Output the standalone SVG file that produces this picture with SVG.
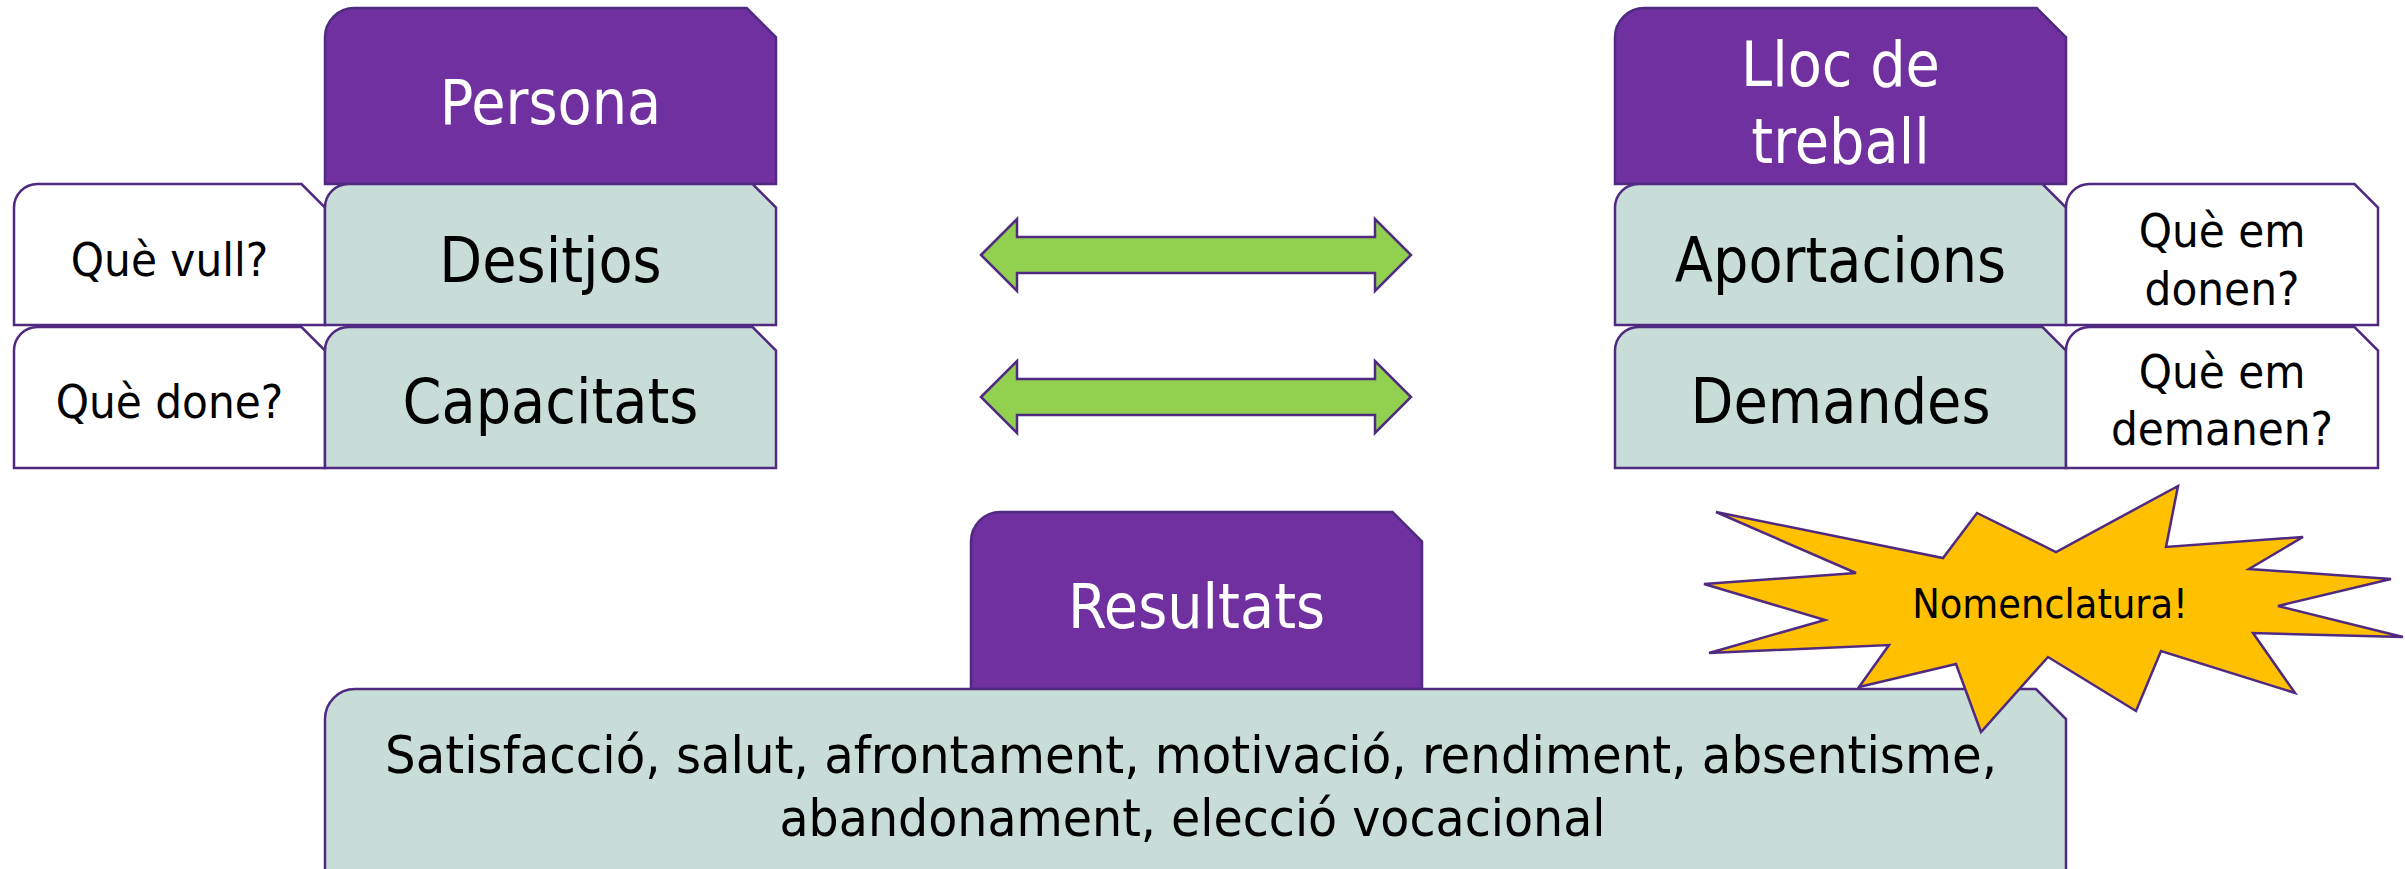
<svg xmlns="http://www.w3.org/2000/svg" width="2405" height="869" viewBox="0 0 2405 869">
<style>
.hdr{fill:#7030A0;stroke:#4F2A80;stroke-width:2.5}
.lt{fill:#C9DDD8;stroke:#4F2A80;stroke-width:2.5}
.wh{fill:#FFFFFF;stroke:#4F2A80;stroke-width:2.5}
.arr{fill:#92D050;stroke:#4F2A80;stroke-width:2.5;stroke-linejoin:miter}
.star{fill:#FFC000;stroke:#4F2A80;stroke-width:2.5;stroke-linejoin:miter}
text{font-family:"DejaVu Sans Condensed","DejaVu Sans",sans-serif;font-stretch:condensed;text-anchor:middle}
.tw{fill:#FFFFFF;font-size:62px}
.tb{fill:#000000;font-size:62px}
.ts{fill:#000000;font-size:47px}
.tm{fill:#000000;font-size:52px}
.tn{fill:#000000;font-size:41px}
</style>
<g id="persona">
<path class="hdr" d="M354.3,8 H746.7 L776,37.3 V184 H325 V37.3 A29.3,29.3 0 0 1 354.3,8 Z"/>
<text class="tw" x="550.5" y="124">Persona</text>
</g>
<g id="que-vull">
<path class="wh" d="M37.5,184 H301.5 L325,207.5 V325 H14 V207.5 A23.5,23.5 0 0 1 37.5,184 Z"/>
<text class="ts" x="169.5" y="276">Què vull?</text>
</g>
<g id="desitjos">
<path class="lt" d="M348.5,184 H752.5 L776,207.5 V325 H325 V207.5 A23.5,23.5 0 0 1 348.5,184 Z"/>
<text class="tb" x="550.5" y="282">Desitjos</text>
</g>
<g id="que-done">
<path class="wh" d="M37.5,327 H301.5 L325,350.5 V468 H14 V350.5 A23.5,23.5 0 0 1 37.5,327 Z"/>
<text class="ts" x="169.5" y="418">Què done?</text>
</g>
<g id="capacitats">
<path class="lt" d="M348.5,327 H752.5 L776,350.5 V468 H325 V350.5 A23.5,23.5 0 0 1 348.5,327 Z"/>
<text class="tb" x="550.5" y="423">Capacitats</text>
</g>
<g id="lloc-treball">
<path class="hdr" d="M1644.3,8 H2036.7 L2066,37.3 V184 H1615 V37.3 A29.3,29.3 0 0 1 1644.3,8 Z"/>
<text class="tw" x="1840.5" y="86">Lloc de</text>
<text class="tw" x="1840.5" y="163">treball</text>
</g>
<g id="aportacions">
<path class="lt" d="M1638.5,184 H2042.5 L2066,207.5 V325 H1615 V207.5 A23.5,23.5 0 0 1 1638.5,184 Z"/>
<text class="tb" x="1840.5" y="282">Aportacions</text>
</g>
<g id="que-em-donen">
<path class="wh" d="M2089.5,184 H2354.5 L2378,207.5 V325 H2066 V207.5 A23.5,23.5 0 0 1 2089.5,184 Z"/>
<text class="ts" x="2222" y="247">Què em</text>
<text class="ts" x="2222" y="305">donen?</text>
</g>
<g id="demandes">
<path class="lt" d="M1638.5,327 H2042.5 L2066,350.5 V468 H1615 V350.5 A23.5,23.5 0 0 1 1638.5,327 Z"/>
<text class="tb" x="1840.5" y="423">Demandes</text>
</g>
<g id="que-em-demanen">
<path class="wh" d="M2089.5,327 H2354.5 L2378,350.5 V468 H2066 V350.5 A23.5,23.5 0 0 1 2089.5,327 Z"/>
<text class="ts" x="2222" y="388">Què em</text>
<text class="ts" x="2222" y="445">demanen?</text>
</g>
<g id="connectors">
<polygon class="arr" points="981,255 1017,219 1017,237 1375,237 1375,219 1411,255 1375,291 1375,273 1017,273 1017,291"/>
<polygon class="arr" points="981,397 1017,361 1017,379 1375,379 1375,361 1411,397 1375,433 1375,415 1017,415 1017,433"/>
</g>
<g id="resultats">
<path class="hdr" d="M1000.5,512 H1392.5 L1422,541.5 V689 H971 V541.5 A29.5,29.5 0 0 1 1000.5,512 Z"/>
<text class="tw" x="1196.5" y="628">Resultats</text>
</g>
<g id="resultats-list">
<path class="lt" d="M355,689 H2036 L2066,719 V875 H325 V719 A30,30 0 0 1 355,689 Z"/>
<text class="tm" x="1191" y="773" textLength="1612" lengthAdjust="spacingAndGlyphs">Satisfacció, salut, afrontament, motivació, rendiment, absentisme,</text>
<text class="tm" x="1192.5" y="836" textLength="826" lengthAdjust="spacingAndGlyphs">abandonament, elecció vocacional</text>
</g>
<g id="nomenclatura">
<polygon class="star" points="1716,512 1943,558 1977,513 2056,552 2178,486 2166,547 2303,537 2249,569 2391,579 2278,606 2403,637 2253,633 2295,693 2161,651 2136,711 2048,657 1981,732 1956,664 1859,687 1889,645 1709,653 1825,620 1704,584 1856,573"/>
<text class="tn" x="2050" y="618">Nomenclatura!</text>
</g>
</svg>
